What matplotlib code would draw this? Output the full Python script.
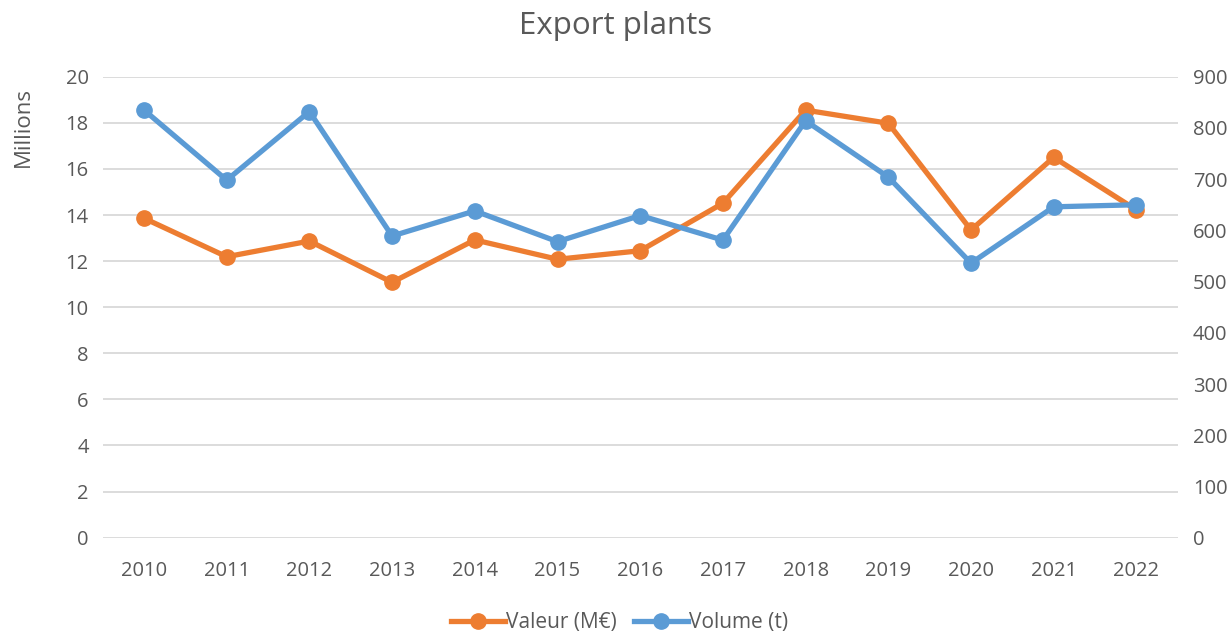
import matplotlib
matplotlib.use("Agg")
import matplotlib.pyplot as plt
from matplotlib.lines import Line2D

years = ["2010", "2011", "2012", "2013", "2014", "2015", "2016",
         "2017", "2018", "2019", "2020", "2021", "2022"]
valeur = [13.86, 12.19, 12.87, 11.08, 12.92, 12.08, 12.45,
          14.51, 18.55, 17.98, 13.35, 16.5, 14.22]
volume = [835, 698, 832, 589, 638, 578, 629, 581, 814, 704, 536, 646, 650]
left_ticks = list(range(0, 21, 2))
right_ticks = list(range(0, 901, 100))

ORANGE = "#ED7D31"
BLUE = "#5B9BD5"
TEXT = "#595959"
GRID = "#D9D9D9"

plt.rcParams['font.family'] = ['Open Sans', 'DejaVu Sans']

fig = plt.figure(figsize=(12.32, 6.34), dpi=100)
ax = fig.add_axes([0.0833, 0.1519, 0.8727, 0.7271])
ax2 = ax.twinx()

x = list(range(len(years)))
LW = 3.8
MS = 11
ax.plot(x, valeur, color=ORANGE, lw=LW, marker='o', ms=MS, solid_capstyle='round', zorder=3)
ax2.plot(x, volume, color=BLUE, lw=LW, marker='o', ms=MS, solid_capstyle='round', zorder=3)

ax.set_xlim(-0.5, len(years) - 0.5)
ax.set_ylim(0, 20)
ax2.set_ylim(0, 900)
ax.set_yticks(left_ticks)
ax2.set_yticks(right_ticks)
ax.set_xticks(x)
ax.set_xticklabels(years)

ax.grid(axis='y', color=GRID, lw=1.3)
ax.set_axisbelow(True)
for a in (ax, ax2):
    for s in a.spines.values():
        s.set_visible(False)
    a.tick_params(length=0, labelsize=14.5, labelcolor=TEXT)
ax.tick_params(axis='y', pad=10)
ax2.tick_params(axis='y', pad=11)
ax.tick_params(axis='x', pad=17)

ax.set_ylabel("Millions", fontsize=16, color=TEXT)
ax.yaxis.set_label_coords(-0.064, 0.89)

fig.suptitle("Export plants", fontsize=22.5, color=TEXT, y=0.982)

handles = [Line2D([0], [0], color=ORANGE, lw=LW, marker='o', ms=MS),
           Line2D([0], [0], color=BLUE, lw=LW, marker='o', ms=MS)]
fig.legend(handles, ["Valeur (M€)", "Volume (t)"], loc='center', bbox_to_anchor=(0.503, 0.018),
           ncol=2, frameon=False, fontsize=15, labelcolor=TEXT, handlelength=2.6,
           handletextpad=0.05, columnspacing=0.8)

fig.savefig("out.png", dpi=100)
